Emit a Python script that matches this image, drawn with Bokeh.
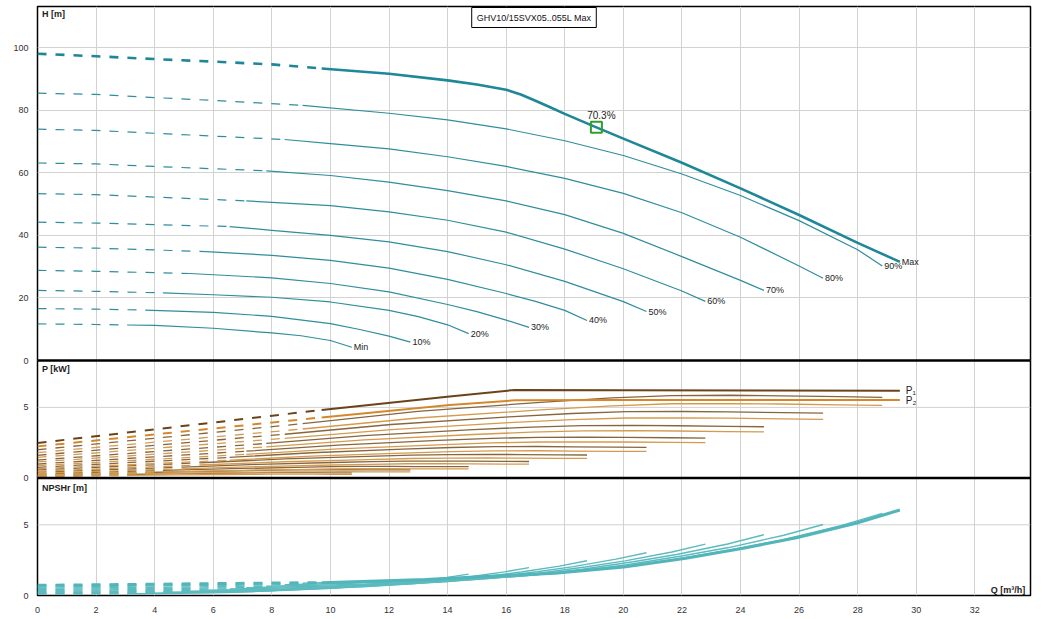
from bokeh.plotting import figure
from bokeh.models import Range1d, FixedTicker, Span, Label, ColumnDataSource
from bokeh.core.properties import value
from bokeh.embed import file_html
from bokeh.resources import INLINE

# ---------------- data ----------------
TITLE = "GHV10/15SVX05..055L Max"
CURVE_LABELS = ["Min", "10%", "20%", "30%", "40%", "50%", "60%", "70%", "80%", "90%", "Max"]
Q_DASH = [3.06, 3.68, 4.28, 5.2, 5.76, 6.56, 7.13, 7.81, 8.44, 9.05, 9.7]

H_Q = [
    [0, 2, 3.06, 4, 6, 8, 9, 10, 10.73],
    [0, 2, 3.68, 6, 8, 10, 11, 12, 12.73],
    [0, 2, 4.28, 6, 8, 10, 12, 13, 14, 14.72],
    [0, 2, 5.2, 8, 10, 12, 14, 15, 16, 16.78],
    [0, 2, 5.76, 8, 10, 12, 14, 16, 17, 18, 18.76],
    [0, 2, 6.56, 8, 10, 12, 14, 16, 18, 20, 20.79],
    [0, 2, 7.13, 10, 12, 14, 16, 18, 20, 22, 22.8],
    [0, 2, 4, 7.81, 10, 12, 14, 16, 18, 20, 22, 24, 24.8],
    [0, 2, 4, 8.44, 10, 12, 14, 16, 18, 20, 22, 24, 26, 26.82],
    [0, 2, 4, 6, 9.05, 12, 14, 16, 18, 20, 22, 24, 26, 28, 28.84],
    [0, 2, 4, 6, 8, 9.7, 12, 14, 15, 16, 16.5, 17, 17.5, 18, 19, 20, 22, 24, 26, 28, 29.44],
]
H_VAL = [
    [11.7, 11.5, 11.35, 11.2, 10.3, 8.8, 7.9, 6.4, 4.25],
    [16.6, 16.4, 16.1, 15.4, 14.1, 11.8, 9.9, 7.8, 5.85],
    [22.4, 22.1, 21.6, 21.0, 20.2, 18.7, 16.0, 14.0, 11.4, 8.6],
    [28.8, 28.5, 27.8, 26.4, 24.6, 21.9, 17.9, 15.6, 12.9, 10.6],
    [36.2, 35.9, 34.8, 33.6, 32.0, 29.5, 25.9, 21.4, 18.9, 16.0, 12.8],
    [44.2, 43.9, 42.8, 41.6, 40.0, 37.9, 34.8, 30.6, 25.3, 18.8, 15.65],
    [53.3, 53.0, 51.0, 49.5, 47.5, 44.8, 41.0, 35.6, 29.3, 22.2, 18.9],
    [63.1, 62.8, 62.0, 60.6, 59.1, 57.0, 54.3, 51.0, 46.6, 40.6, 33.2, 25.6, 22.4],
    [73.9, 73.5, 72.6, 70.6, 69.3, 67.6, 65.1, 62.0, 58.2, 53.4, 47.2, 39.4, 30.2, 26.3],
    [85.4, 85.0, 84.0, 83.1, 81.5, 79.0, 76.9, 74.0, 70.2, 65.5, 59.6, 52.7, 44.7, 35.4, 30.2],
    [98.0, 97.2, 96.3, 95.5, 94.6, 93.3, 91.6, 89.5, 88.2, 86.5, 85.0, 83.0, 80.9, 78.8, 74.8,
     70.9, 63.2, 55.0, 46.5, 37.6, 31.5],
]

# flow points used for the power and NPSH curves
AUX_Q = [
    [0, 3.06, 4.83, 6.44, 7.30, 8.05, 8.80, 9.44, 10.19, 10.73],
    [0, 3.68, 5.73, 7.64, 8.66, 9.55, 10.44, 11.20, 12.09, 12.73],
    [0, 4.28, 6.62, 8.83, 10.01, 11.04, 12.07, 12.95, 13.98, 14.72],
    [0, 5.2, 7.55, 10.07, 11.41, 12.59, 13.76, 14.77, 15.94, 16.78],
    [0, 5.76, 8.44, 11.26, 12.76, 14.07, 15.38, 16.51, 17.82, 18.76],
    [0, 6.56, 9.36, 12.47, 14.14, 15.59, 17.05, 18.30, 19.75, 20.79],
    [0, 7.13, 10.26, 13.68, 15.50, 17.10, 18.70, 20.06, 21.66, 22.80],
    [0, 7.81, 11.16, 14.88, 16.86, 18.60, 20.34, 21.82, 23.56, 24.80],
    [0, 8.44, 12.07, 16.09, 18.24, 20.12, 21.99, 23.60, 25.48, 26.82],
    [0, 9.05, 12.98, 17.30, 19.61, 21.63, 23.65, 25.38, 27.40, 28.84],
    [0, 9.7, 13.25, 17.66, 20.02, 22.08, 24.14, 25.91, 27.97, 29.44],
]
MAX_P_Q = [0, 9.7, 14.07, 16.3, 20, 25, 29.44]

P1_VAL = [
    [0.13, 0.25, 0.31, 0.35, 0.37, 0.38, 0.38, 0.38, 0.37, 0.37],
    [0.20, 0.39, 0.47, 0.54, 0.57, 0.58, 0.59, 0.58, 0.58, 0.57],
    [0.28, 0.54, 0.66, 0.75, 0.80, 0.82, 0.82, 0.81, 0.81, 0.80],
    [0.41, 0.79, 0.97, 1.10, 1.16, 1.20, 1.20, 1.19, 1.18, 1.17],
    [0.57, 1.10, 1.35, 1.53, 1.62, 1.66, 1.67, 1.66, 1.64, 1.63],
    [0.76, 1.46, 1.79, 2.04, 2.16, 2.22, 2.23, 2.21, 2.19, 2.17],
    [0.99, 1.90, 2.33, 2.66, 2.81, 2.88, 2.89, 2.88, 2.85, 2.82],
    [1.27, 2.45, 3.00, 3.42, 3.61, 3.71, 3.73, 3.70, 3.66, 3.63],
    [1.61, 3.10, 3.79, 4.33, 4.57, 4.70, 4.71, 4.68, 4.63, 4.59],
    [2.00, 3.85, 4.72, 5.38, 5.68, 5.84, 5.86, 5.82, 5.76, 5.71],
    [2.48, 4.82, 5.78, 6.24, 6.22, 6.20, 6.18],
]
P2_VAL = [
    [0.09, 0.18, 0.22, 0.25, 0.26, 0.27, 0.27, 0.27, 0.26, 0.26],
    [0.15, 0.30, 0.36, 0.41, 0.43, 0.44, 0.45, 0.44, 0.44, 0.43],
    [0.22, 0.43, 0.53, 0.60, 0.64, 0.66, 0.66, 0.65, 0.65, 0.64],
    [0.34, 0.66, 0.81, 0.92, 0.97, 1.01, 1.01, 1.00, 0.99, 0.98],
    [0.48, 0.94, 1.15, 1.30, 1.38, 1.41, 1.42, 1.41, 1.39, 1.39],
    [0.66, 1.26, 1.55, 1.76, 1.87, 1.92, 1.93, 1.91, 1.89, 1.88],
    [0.88, 1.68, 2.06, 2.35, 2.49, 2.55, 2.56, 2.55, 2.52, 2.50],
    [1.14, 2.21, 2.70, 3.08, 3.25, 3.34, 3.36, 3.33, 3.29, 3.27],
    [1.46, 2.81, 3.43, 3.92, 4.14, 4.25, 4.26, 4.24, 4.19, 4.15],
    [1.80, 3.47, 4.25, 4.84, 5.11, 5.26, 5.27, 5.24, 5.18, 5.14],
    [2.24, 4.29, 5.17, 5.50, 5.53, 5.53, 5.52],
]
NPSH_VAL = [
    [0.10, 0.12, 0.15, 0.21, 0.27, 0.35, 0.45, 0.54, 0.68, 0.80],
    [0.13, 0.17, 0.21, 0.30, 0.38, 0.49, 0.63, 0.76, 0.96, 1.13],
    [0.18, 0.23, 0.28, 0.40, 0.51, 0.66, 0.84, 1.02, 1.28, 1.51],
    [0.23, 0.30, 0.37, 0.51, 0.66, 0.85, 1.09, 1.33, 1.67, 1.97],
    [0.29, 0.37, 0.46, 0.64, 0.82, 1.06, 1.36, 1.66, 2.08, 2.46],
    [0.36, 0.46, 0.57, 0.79, 1.01, 1.31, 1.68, 2.04, 2.57, 3.02],
    [0.43, 0.55, 0.68, 0.95, 1.21, 1.57, 2.02, 2.45, 3.08, 3.63],
    [0.51, 0.65, 0.80, 1.12, 1.43, 1.86, 2.39, 2.90, 3.64, 4.30],
    [0.60, 0.76, 0.94, 1.31, 1.68, 2.17, 2.79, 3.39, 4.26, 5.02],
    [0.69, 0.87, 1.08, 1.52, 1.94, 2.52, 3.23, 3.92, 4.92, 5.81],
    [0.72, 0.91, 1.13, 1.58, 2.02, 2.62, 3.36, 4.08, 5.13, 6.05],
]

DUTY_Q, DUTY_H, DUTY_TEXT = 19.08, 74.5, "70.3%"

Q_TICKS = [0, 2, 4, 6, 8, 10, 12, 14, 16, 18, 20, 22, 24, 26, 28, 30, 32]
H_TICKS = [0, 20, 40, 60, 80, 100]
P_TICKS = [0, 5]
NPSH_TICKS = [0, 5]

# ---------------- layout / styling ----------------
X_SPAN = (0, 33.9)
Y_H = (-75.08, 113.1)      # head panel occupies the top of the frame
Y_P = (-8.32, 33.39)       # power panel in the middle
Y_N = (0, 41.65)           # NPSH panel at the bottom

FONT = "Liberation Sans"
GRID = "#d2d2d2"
H_THIN, H_MAX = "#2f8e9c", "#1e8798"
P1_THIN, P2_THIN = "#86663f", "#d69a4c"
P1_MAX, P2_MAX = "#6a4319", "#d5882b"
N_THIN, N_MAX = "#5bbbbf", "#52b5ba"
DASH = "9 9"
TICK_COLOR = "#333333"

p = figure(width=1034, height=615, output_backend="svg", toolbar_location=None,
           x_range=Range1d(*X_SPAN), y_range=Range1d(*Y_H),
           min_border_left=37, min_border_right=4, min_border_top=6, min_border_bottom=20)
p.extra_y_ranges = {"P": Range1d(*Y_P), "N": Range1d(*Y_N)}
p.background_fill_color = "white"
p.border_fill_color = "white"
p.outline_line_color = "black"
p.outline_line_width = 1.5


def on_head_scale(v, span):
    """Position on the left (head) axis that shares the screen row of value v of another panel."""
    return Y_H[0] + (v - span[0]) / (span[1] - span[0]) * (Y_H[1] - Y_H[0])


# left axis carries the tick labels of all three stacked panels
left_ticks = list(H_TICKS)
overrides = {}
for span, ticks in ((Y_P, P_TICKS), (Y_N, NPSH_TICKS)):
    for t in ticks:
        pos = round(on_head_scale(t, span), 6)
        left_ticks.append(pos)
        overrides[pos] = str(t)

for ax in (p.xaxis[0], p.yaxis[0]):
    ax.axis_line_color = None
    ax.major_tick_line_color = None
    ax.minor_tick_line_color = None
    ax.major_label_text_font = FONT
    ax.major_label_text_font_size = "9px"
    ax.major_label_text_color = TICK_COLOR
p.xaxis.ticker = FixedTicker(ticks=Q_TICKS)
p.xaxis.major_label_standoff = 5
p.yaxis.ticker = FixedTicker(ticks=left_ticks)
p.yaxis.major_label_overrides = overrides
p.yaxis.major_label_standoff = 3

p.xgrid.ticker = FixedTicker(ticks=Q_TICKS)
p.ygrid.ticker = FixedTicker(ticks=H_TICKS)
for g in (p.xgrid[0], p.ygrid[0]):
    g.grid_line_color = GRID
    g.grid_line_width = 1

for rng, ticks in (("P", P_TICKS), ("N", NPSH_TICKS)):
    for t in ticks:
        if t > 0:
            p.add_layout(Span(location=t, dimension="width", y_range_name=rng,
                              line_color=GRID, line_width=1, level="underlay"))


def split(qs, vs, qd):
    dq = [q for q in qs if q <= qd]
    dv = vs[:len(dq)]
    k = len(dq) - 1
    return dq, dv, qs[k:], vs[k:]


n = len(CURVE_LABELS)
for i in range(n):
    is_max = i == n - 1
    qd = Q_DASH[i]
    # head
    dq, dv, sq, sv = split(H_Q[i], H_VAL[i], qd)
    col, w = (H_MAX, 2.6) if is_max else (H_THIN, 1.2)
    p.line(dq, dv, line_color=col, line_width=w, line_dash=DASH)
    p.line(sq, sv, line_color=col, line_width=w)
    # power
    pq = MAX_P_Q if is_max else AUX_Q[i]
    for vals, thin, thick in ((P1_VAL[i], P1_THIN, P1_MAX), (P2_VAL[i], P2_THIN, P2_MAX)):
        dq, dv, sq, sv = split(pq, vals, qd)
        col, w = (thick, 2.0) if is_max else (thin, 1.3)
        p.line(dq, dv, line_color=col, line_width=w, line_dash=DASH, y_range_name="P")
        p.line(sq, sv, line_color=col, line_width=w, y_range_name="P")
    # npsh
    dq, dv, sq, sv = split(AUX_Q[i], NPSH_VAL[i], qd)
    col, w = (N_MAX, 3.0) if is_max else (N_THIN, 1.4)
    p.line(dq, dv, line_color=col, line_width=w, line_dash=DASH, y_range_name="N")
    p.line(sq, sv, line_color=col, line_width=w, y_range_name="N")

# curve end labels
lab_src = ColumnDataSource(dict(x=[q[-1] for q in H_Q], y=[h[-1] for h in H_VAL], t=CURVE_LABELS))
p.text(x="x", y="y", text="t", source=lab_src, x_offset=2, text_baseline="middle",
       text_font=value(FONT), text_font_size="9px", text_color="#222222")

# P1 / P2 labels at the end of the Max power curves
pl_src = ColumnDataSource(dict(x=[MAX_P_Q[-1], MAX_P_Q[-1]], y=[P1_VAL[-1][-1], P2_VAL[-1][-1]],
                               t=["P\u2081", "P\u2082"]))
p.text(x="x", y="y", text="t", source=pl_src, x_offset=6, text_baseline="middle",
       y_range_name="P", text_font=value(FONT), text_font_size="10px", text_color="#222222")

# panel separators
p.add_layout(Span(location=0, dimension="width", line_color="black", line_width=2.5))
p.add_layout(Span(location=0, dimension="width", y_range_name="P", line_color="black", line_width=2.5))

# duty point
p.scatter([DUTY_Q], [DUTY_H], marker="square", size=11, fill_color=None,
          line_color="#2ca02c", line_width=2)
p.add_layout(Label(x=DUTY_Q, y=DUTY_H, text=DUTY_TEXT, x_offset=5, y_offset=12,
                   text_align="center", text_baseline="middle", text_font=FONT,
                   text_font_size="10px", text_color="#222222"))

# panel titles
p.add_layout(Label(x=0.15, y=112.2, text="H [m]", text_baseline="top", text_font=FONT,
                   text_font_size="9px", text_font_style="bold", text_color="#222222"))
p.add_layout(Label(x=0.15, y=8.05, y_range_name="P", text="P [kW]", text_baseline="top",
                   text_font=FONT, text_font_size="9px", text_font_style="bold", text_color="#222222"))
p.add_layout(Label(x=0.15, y=7.92, y_range_name="N", text="NPSHr [m]", text_baseline="top",
                   text_font=FONT, text_font_size="9px", text_font_style="bold", text_color="#222222"))
p.add_layout(Label(x=33.72, y=0.42, y_range_name="N", text="Q [m\u00b3/h]", text_align="right",
                   text_baseline="middle", text_font=FONT, text_font_size="9px",
                   text_font_style="bold", text_color="#222222"))

# model box
p.add_layout(Label(x=(X_SPAN[0] + X_SPAN[1]) / 2, y=Y_H[1], y_offset=-1, text=TITLE,
                   text_align="center", text_baseline="top",
                   text_font=FONT, text_font_size="9px", text_color="#111111",
                   border_line_color="black", border_line_width=1,
                   background_fill_color="white", padding=5))

open("out.html", "w").write(file_html(p, INLINE))
